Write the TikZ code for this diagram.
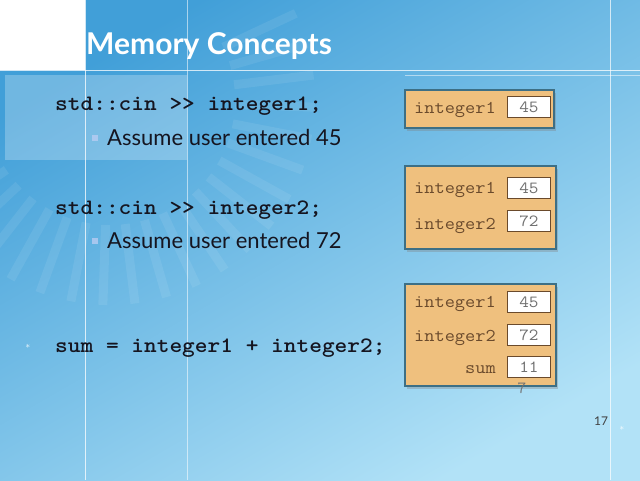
\documentclass[tikz,border=0pt]{standalone}
\usepackage{fontspec}
\setmainfont{Lato}
\usetikzlibrary{shadows}
\definecolor{bgA}{HTML}{419FD8}
\definecolor{bgB}{HTML}{B2E2F7}
\definecolor{tanfill}{HTML}{EFC07E}
\definecolor{boxedge}{HTML}{3D6F85}
\definecolor{labelcol}{HTML}{6A4A2C}
\definecolor{valcol}{HTML}{707070}
\definecolor{codecol}{HTML}{151520}
\definecolor{bulletcol}{HTML}{B8CCF2}
\newcommand{\codetext}[1]{\scalebox{1.1}[1]{#1}}
\tikzset{
  membox/.style={draw=boxedge, line width=1.6pt, fill=tanfill, anchor=north west, inner sep=0pt,
    drop shadow={shadow xshift=2pt, shadow yshift=-3pt, opacity=0.35}},
  valbox/.style={draw=labelcol, line width=0.9pt, fill=white, anchor=north west, inner sep=0pt,
    minimum width=43pt, minimum height=21pt, font=\ttfamily\fontsize{17}{17}\selectfont, text=valcol},
  varlabel/.style={font=\ttfamily\fontsize{18}{18}\selectfont, text=labelcol, inner sep=0pt},
  codeline/.style={font=\ttfamily\bfseries\fontsize{22}{22}\selectfont, text=codecol, anchor=base west, inner sep=0pt},
  bodyline/.style={font=\fontsize{22}{22}\selectfont, text=codecol, anchor=base west, inner sep=0pt},
  sqbullet/.style={fill=bulletcol, fill opacity=0.8, minimum size=6pt, inner sep=0pt},
  raystyle/.style={white, opacity=0.08, line width=9pt},
  gridline/.style={white, opacity=0.75, line width=1pt}
}
\begin{document}
\begin{tikzpicture}[x=1pt,y=-1pt]
\useasboundingbox (0,0) rectangle (640,480);
% background
\shade[left color=bgA, right color=bgB, shading angle=30] (0,0) rectangle (640,480);
% faint rays
\foreach \a in {-25,-16,...,160} {
  \draw[raystyle] (110,100) ++(\a:125) -- ++(\a:80);
}
% white corner
\fill[white] (0,0) rectangle (85,70);
% translucent panel
\fill[white, opacity=0.25] (5,75) rectangle (187,160);
% grid lines
\draw[gridline] (0,70) -- (640,70);
\draw[gridline, opacity=0.5] (405,75) -- (640,75);
\draw[gridline] (85,0) -- (85,480);
\draw[gridline, opacity=0.55] (187,0) -- (187,480);
\draw[gridline, opacity=0.7] (610,0) -- (610,480);
% title
\node[font=\bfseries\fontsize{30}{30}\selectfont, text=white, anchor=base west, inner sep=0pt] (title) at (86,54) {Memory Concepts};
% code and text
\node[codeline] (c1) at (55,110) {\codetext{std::cin >> integer1;}};
\node[sqbullet] (b1) at (95,138) {};
\node[bodyline] (t1) at (107,145) {Assume user entered 45};
\node[codeline] (c2) at (55,214) {\codetext{std::cin >> integer2;}};
\node[sqbullet] (b2) at (95,241) {};
\node[bodyline] (t2) at (107,248) {Assume user entered 72};
\node[text=white, font=\fontsize{9}{9}\selectfont, inner sep=0pt] (s1) at (28,346) {$\ast$};
\node[codeline] (c3) at (55,352) {\codetext{sum = integer1 + integer2;}};
% box 1
\node[membox, minimum width=149pt, minimum height=38pt] (m1) at (404,89) {};
\node[varlabel, anchor=base west] (m1a) at (414,113) {\codetext{integer1}};
\node[valbox] (v1a) at (507,96) {\codetext{45}};
% box 2
\node[membox, minimum width=151pt, minimum height=83pt] (m2) at (404,165) {};
\node[varlabel, anchor=base west] (m2a) at (414,193) {\codetext{integer1}};
\node[valbox] (v2a) at (507,177) {\codetext{45}};
\node[varlabel, anchor=base west] (m2b) at (414,229) {\codetext{integer2}};
\node[valbox] (v2b) at (507,210) {\codetext{72}};
% box 3
\node[membox, minimum width=151pt, minimum height=102pt] (m3) at (404,283) {};
\node[varlabel, anchor=base west] (m3a) at (414,307) {\codetext{integer1}};
\node[valbox] (v3a) at (507,291) {\codetext{45}};
\node[varlabel, anchor=base west] (m3b) at (414,341) {\codetext{integer2}};
\node[valbox] (v3b) at (507,324) {\codetext{72}};
\node[varlabel, anchor=base east] (m3c) at (496,373) {\codetext{sum}};
\node[valbox] (v3c) at (507,356) {\codetext{11}};
\node[font=\ttfamily\fontsize{17}{17}\selectfont, text=valcol, anchor=base, inner sep=0pt] (v3d) at (522,393) {7};
% page number
\node[font=\fontsize{12}{12}\selectfont, text=black!75, anchor=base west, inner sep=0pt] (pg) at (594,425) {17};
\node[text=white, font=\fontsize{9}{9}\selectfont, inner sep=0pt] (s2) at (622,428) {$\ast$};
\end{tikzpicture}
\end{document}
